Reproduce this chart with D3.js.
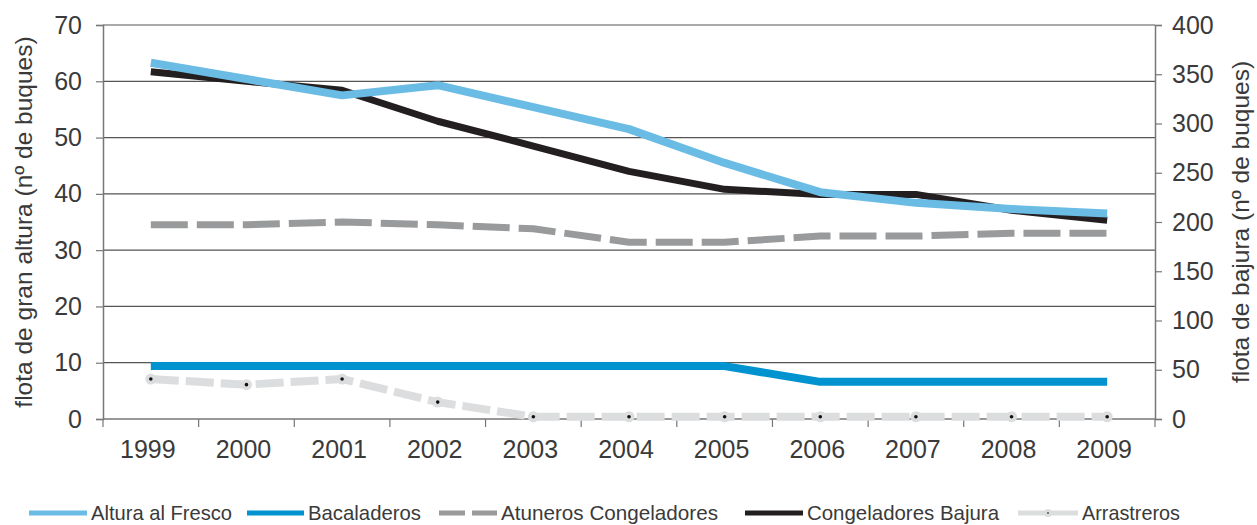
<!DOCTYPE html>
<html>
<head>
<meta charset="utf-8">
<script src="https://cdn.jsdelivr.net/npm/d3@7"></script>
<style>
  body { margin: 0; background: #fff; }
  text { font-family: "Liberation Sans", Arial, sans-serif; fill: #3a3a3a; }
</style>
</head>
<body>
<div id="chart"></div>
<script>
// years and series values (left axis units, nº de buques)
var years = ['1999', '2000', '2001', '2002', '2003', '2004', '2005', '2006', '2007', '2008', '2009'];
var alturaFresco = [63.3, 60.4, 57.5, 59.3, 55.4, 51.5, 45.5, 40.3, 38.4, 37.3, 36.5];
var bacaladeros = [9.4, 9.4, 9.4, 9.4, 9.4, 9.4, 9.4, 6.6, 6.6, 6.6, 6.6];
var atuneros = [34.5, 34.5, 35.0, 34.5, 33.8, 31.4, 31.4, 32.5, 32.5, 33.0, 33.0];
var congBajura = [61.7, 60.0, 58.4, 52.9, 48.5, 44.0, 40.8, 39.9, 39.9, 37.1, 35.3];
var arrastreros = [7.1, 6.1, 7.1, 3.0, 0.4, 0.4, 0.4, 0.4, 0.4, 0.4, 0.4];

var leftTicks = [0, 10, 20, 30, 40, 50, 60, 70];
var rightTicks = [0, 50, 100, 150, 200, 250, 300, 350, 400];

var series = [
    {name: 'Altura al Fresco', values: alturaFresco, color: '#6bbce4', width: 8, dash: null, marker: false},
    {name: 'Bacaladeros', values: bacaladeros, color: '#0093d0', width: 8, dash: null, marker: false},
    {name: 'Atuneros Congeladores', values: atuneros, color: '#999a9c', width: 7, dash: '37,9', marker: false},
    {name: 'Congeladores Bajura', values: congBajura, color: '#231f20', width: 7, dash: null, marker: false},
    {name: 'Arrastreros', values: arrastreros, color: '#dcddde', width: 8, dash: '28,7', marker: true},
];
// draw order (back to front)
var drawOrder = [4, 2, 1, 3, 0];

var width = 1257, height = 525;
var mLeft = 103, mRight = 1155, mTop = 25, mBottom = 419;
var fontFam = '"Liberation Sans", Arial, sans-serif';

var svg = d3.select('#chart').append('svg')
    .attr('width', width)
    .attr('height', height);

var x = d3.scaleBand().domain(years).range([mLeft, mRight]);
var yL = d3.scaleLinear().domain([0, 70]).range([mBottom, mTop]);
var yR = d3.scaleLinear().domain([0, 400]).range([mBottom, mTop]);

// grid lines
svg.append('g')
    .selectAll('line')
    .data(leftTicks.filter(d => d > 0))
    .enter().append('line')
    .attr('x1', mLeft).attr('x2', mRight)
    .attr('y1', d => yL(d)).attr('y2', d => yL(d))
    .attr('stroke', '#555').attr('stroke-width', 1.2);

// left axis
var axL = svg.append('g')
    .attr('transform', 'translate(' + mLeft + ',0)')
    .call(d3.axisLeft(yL).tickValues(leftTicks).tickSize(7).tickPadding(14));
// right axis
var axR = svg.append('g')
    .attr('transform', 'translate(' + mRight + ',0)')
    .call(d3.axisRight(yR).tickValues(rightTicks).tickSize(7).tickPadding(10));
[axL, axR].forEach(ax => {
    ax.select('.domain').attr('stroke', '#777').attr('stroke-width', 1.5);
    ax.selectAll('.tick line').attr('stroke', '#777').attr('stroke-width', 1.2);
    ax.selectAll('.tick text').attr('font-size', 25).attr('font-family', fontFam).attr('fill', '#3a3a3a');
});

// x axis: ticks at band boundaries
svg.append('line')
    .attr('x1', mLeft).attr('x2', mRight)
    .attr('y1', mBottom).attr('y2', mBottom)
    .attr('stroke', '#777').attr('stroke-width', 1.5);
var bounds = years.map(d => x(d)).concat([mRight]);
svg.append('g').selectAll('line')
    .data(bounds)
    .enter().append('line')
    .attr('x1', d => d).attr('x2', d => d)
    .attr('y1', mBottom).attr('y2', mBottom + 8)
    .attr('stroke', '#777').attr('stroke-width', 1.2);
svg.append('g').selectAll('text')
    .data(years)
    .enter().append('text')
    .attr('x', d => x(d) + x.bandwidth() / 2 - 3)
    .attr('y', 458)
    .attr('text-anchor', 'middle')
    .attr('font-size', 25)
    .text(d => d);

// axis titles
svg.append('text')
    .attr('transform', 'translate(32,' + (mBottom + mTop) / 2 + ') rotate(-90)')
    .attr('text-anchor', 'middle')
    .attr('font-size', 24.5)
    .text('flota de gran altura (nº de buques)');
svg.append('text')
    .attr('transform', 'translate(1249,' + (mBottom + mTop) / 2 + ') rotate(-90)')
    .attr('text-anchor', 'middle')
    .attr('font-size', 24.5)
    .text('flota de bajura (nº de buques)');

// lines
var line = d3.line()
    .x((d, i) => x(years[i]) + x.bandwidth() / 2)
    .y(d => yL(d));

drawOrder.forEach(k => {
    var s = series[k];
    svg.append('path')
        .datum(s.values)
        .attr('d', line)
        .attr('fill', 'none')
        .attr('stroke', s.color)
        .attr('stroke-width', s.width)
        .attr('stroke-dasharray', s.dash)
        .attr('stroke-linejoin', 'round');
    if (s.marker) {
        var m = svg.append('g').selectAll('g')
            .data(s.values)
            .enter().append('g')
            .attr('transform', (d, i) => 'translate(' + (x(years[i]) + x.bandwidth() / 2) + ',' + yL(d) + ')');
        m.append('circle').attr('r', 5.5).attr('fill', s.color);
        m.append('circle').attr('r', 1.8).attr('fill', '#111');
    }
});

// legend (line start/end and text width per item)
var legendPos = [
    {x0: 29, x1: 87, w: 141},
    {x0: 247, x1: 304, w: 113},
    {x0: 439, x1: 497, w: 217},
    {x0: 745, x1: 803, w: 192},
    {x0: 1018, x1: 1078, w: 98},
];
var ly = 513;
series.forEach((s, k) => {
    var p = legendPos[k];
    var g = svg.append('g');
    g.append('line')
        .attr('x1', p.x0).attr('x2', p.x1)
        .attr('y1', ly).attr('y2', ly)
        .attr('stroke', s.color)
        .attr('stroke-width', 5)
        .attr('stroke-dasharray', k == 2 ? '26,7' : null);
    if (s.marker) {
        var cx = (p.x0 + p.x1) / 2;
        g.append('circle').attr('cx', cx).attr('cy', ly).attr('r', 4).attr('fill', s.color);
        g.append('circle').attr('cx', cx).attr('cy', ly).attr('r', 1).attr('fill', '#555');
    }
    g.append('text')
        .attr('x', p.x1 + 4)
        .attr('y', ly + 7)
        .attr('font-size', 21)
        .attr('textLength', p.w)
        .attr('lengthAdjust', 'spacingAndGlyphs')
        .text(s.name);
});
</script>
</body>
</html>
